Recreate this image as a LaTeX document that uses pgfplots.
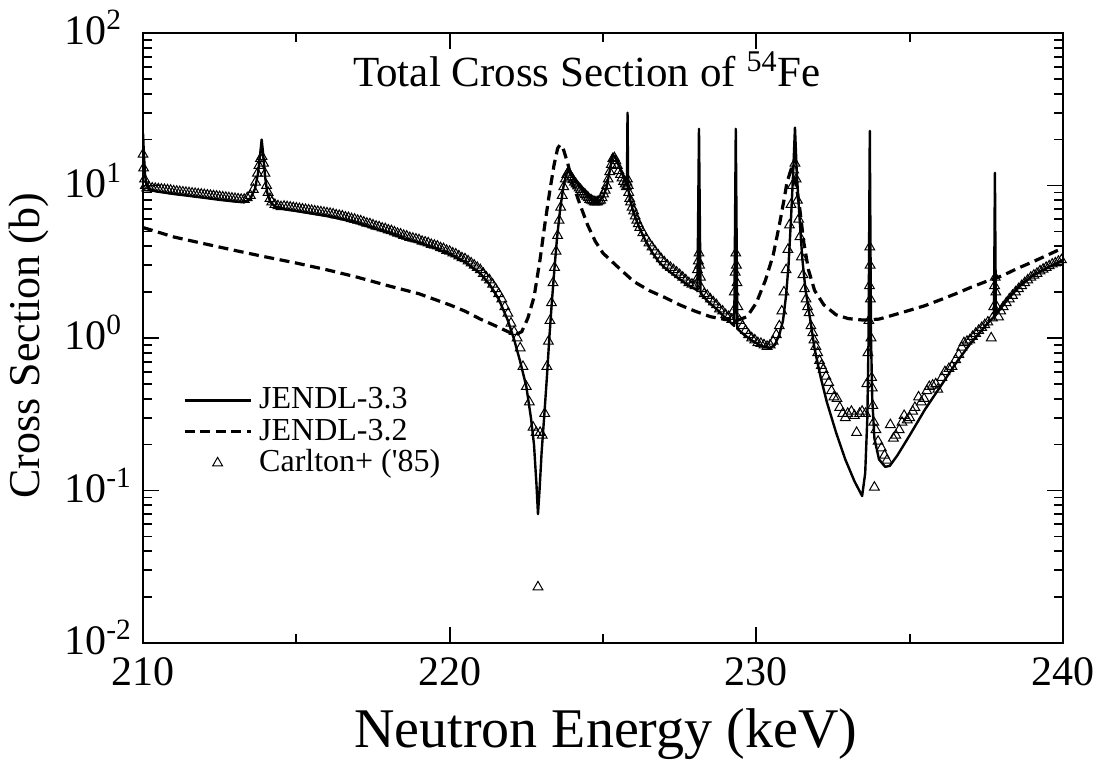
\documentclass[border=0pt]{standalone}
\usepackage{fontspec}
\setmainfont{Liberation Serif}
\usepackage{pgfplots}
\pgfplotsset{compat=1.18}
\pgfplotsset{
  lineleg/.style={legend image code/.code={\draw[##1] (0pt,0pt) -- (33pt,0pt);}},
  markleg/.style={legend image code/.code={\draw[mark repeat=2,mark phase=2,##1] plot coordinates {(0pt,0pt) (16.5pt,0pt) (33pt,0pt)};}},
}
\begin{document}
\begin{tikzpicture}
\begin{axis}[
  at={(0pt,0pt)}, anchor=south west,
  scale only axis, width=460pt, height=305pt,
  xmin=210, xmax=240,
  ymode=log, ymin=0.01, ymax=100,
  xtick={210,220,230,240}, xticklabels={210,220,230,240},
  minor xtick={215,225,235},
  ytick={0.01,0.1,1,10,100},
  yticklabels={10\textsuperscript{-2},10\textsuperscript{-1},10\textsuperscript{0},10\textsuperscript{1},10\textsuperscript{2}},
  minor ytick={0.02,0.03,0.04,0.05,0.06,0.07,0.08,0.09,0.2,0.3,0.4,0.5,0.6,0.7,0.8,0.9,2,3,4,5,6,7,8,9,20,30,40,50,60,70,80,90},
  tick align=inside,
  major tick length=8pt, minor tick length=4.5pt,
  every tick/.style={black, line width=0.9pt},
  axis line style={line width=1.2pt},
  ticklabel style={font=\fontsize{21}{21}\selectfont},
  xticklabel style={anchor=north, yshift=-4pt},
  yticklabel style={anchor=base west, inner xsep=0pt, xshift=-39.5pt, yshift=-6pt},
  title={Total Cross Section of \textsuperscript{54}Fe},
  title style={at={(axis description cs:0.4826,0.8918)}, anchor=base, font=\fontsize{21.5}{21.5}\selectfont},
  xlabel={Neutron Energy (keV)},
  xlabel style={at={(axis description cs:0.503,-0.1705)}, anchor=base, font=\fontsize{28}{28}\selectfont},
  ylabel={Cross Section (b)},
  ylabel style={at={(axis description cs:-0.112,0.487)}, anchor=base, font=\fontsize{22}{22}\selectfont},
  legend cell align=left,
  legend style={draw=none, fill=none, at={(axis description cs:0.0435,0.423)}, anchor=north west,
    inner sep=0pt, outer sep=0pt, column sep=3.5pt, row sep=0pt,
    font=\fontsize{16}{16}\selectfont,
    nodes={inner sep=0pt, text height=12pt, text depth=3.6pt}},
  lineleg,
]
\addplot[black, line width=1.2pt, line join=round, no marks] table[x=x,y=y] {
x y
210.00 22
210.03 16
210.07 11.5
210.12 10.0
210.2 9.4
210.5 9.1
211.0 8.8
211.5 8.55
212.0 8.3
212.5 8.05
213.0 7.85
213.3 7.75
213.5 8.2
213.65 9.5
213.75 12
213.82 16
213.87 20
213.92 16
213.98 11.5
214.05 9.0
214.15 7.8
214.3 7.3
214.6 7.0
215.0 6.8
215.5 6.55
216.0 6.3
216.5 6.0
217.0 5.65
217.5 5.25
218.0 4.9
218.5 4.5
219.0 4.2
219.5 3.9
220.0 3.55
220.5 3.15
221.0 2.65
221.3 2.25
221.6 1.8
221.9 1.3
222.1 0.98
222.3 0.7
222.5 0.48
222.65 0.3
222.75 0.2
222.83 0.11
222.88 0.07
222.93 0.1
223.0 0.18
223.08 0.3
223.17 0.55
223.25 1.0
223.33 1.7
223.42 2.9
223.5 4.5
223.6 6.9
223.7 9.6
223.8 11.8
223.87 12.6
223.95 12.0
224.1 10.7
224.3 9.5
224.5 8.5
224.7 7.9
224.85 7.8
225.0 8.4
225.12 9.8
225.22 12.5
225.32 16
225.42 15
225.55 13
225.7 11
225.78 10
225.80 30
225.82 9.5
225.9 7.8
226.0 6.6
226.2 5.2
226.4 4.3
226.6 3.65
226.8 3.2
227.0 2.9
227.3 2.6
227.6 2.35
227.9 2.15
228.08 2.05
228.13 23.5
228.18 1.98
228.4 1.75
228.7 1.55
229.0 1.35
229.28 1.2
229.33 23.5
229.38 1.15
229.6 1.05
229.9 0.95
230.2 0.88
230.45 0.86
230.6 0.9
230.75 1.05
230.87 1.3
230.97 1.9
231.05 3.0
231.13 6
231.2 12
231.26 24
231.32 12
231.4 6.5
231.5 3.3
231.6 2.1
231.75 1.35
231.9 0.85
232.1 0.55
232.3 0.38
232.6 0.24
232.9 0.16
233.2 0.115
233.45 0.092
233.55 0.13
233.62 0.3
233.66 1
233.7 22.8
233.74 1
233.78 0.4
233.85 0.22
234.0 0.16
234.2 0.143
234.35 0.145
234.6 0.17
235.0 0.23
235.5 0.34
236.0 0.48
236.5 0.68
237.0 0.93
237.5 1.22
237.75 1.38
237.78 12.1
237.81 1.42
238.2 1.8
238.6 2.2
239.0 2.55
239.5 2.9
240.0 3.25
};
\addlegendentry{JENDL-3.3}
\addplot[black, line width=1.6pt, dash pattern=on 5pt off 2.8pt, no marks] table[x=x,y=y] {
x y
210 5.3
211 4.6
212 4.15
213 3.75
214 3.4
215 3.1
216 2.8
217 2.5
218 2.2
219 1.95
220 1.65
220.5 1.5
221 1.33
221.5 1.2
221.9 1.1
222.15 1.05
222.35 1.1
222.55 1.35
222.75 1.85
222.95 3.3
223.1 5.5
223.25 8.8
223.4 13.5
223.52 17.5
223.6 18.5
223.7 17.5
223.85 14
224.0 10.5
224.25 7.5
224.5 5.5
224.75 4.3
225.0 3.6
225.5 2.9
226.0 2.35
226.5 2.05
227.0 1.85
227.5 1.65
228.0 1.5
228.5 1.38
229.0 1.32
229.4 1.31
229.7 1.38
230.0 1.7
230.3 2.4
230.55 3.5
230.75 5.5
230.9 8
231.0 10.5
231.12 12.5
231.25 11.5
231.4 7.5
231.55 4.2
231.7 2.8
231.9 2.05
232.2 1.65
232.6 1.42
233.0 1.34
233.5 1.31
234.0 1.33
234.5 1.42
235.0 1.52
235.5 1.63
236.0 1.78
236.5 1.95
237.0 2.15
237.5 2.35
238.0 2.55
238.5 2.85
239.0 3.15
239.5 3.5
240.0 3.9
};
\addlegendentry{JENDL-3.2}
\addplot[only marks, mark=triangle, mark size=2.8pt, mark options={line width=0.5pt, black, solid}, markleg] table[x=x,y=y] {
x y
210.0 16
210.02 13
210.05 11
210.08 10
210.12 9.6
210.2 9.7
210.3 9.6
210.4 9.55
210.5 9.5
210.6 9.45
210.7 9.4
210.8 9.35
210.9 9.3
211.0 9.2
211.1 9.15
211.2 9.1
211.3 9.05
211.4 9.0
211.5 8.95
211.6 8.9
211.7 8.85
211.8 8.8
211.9 8.75
212.0 8.7
212.1 8.65
212.2 8.6
212.3 8.55
212.4 8.5
212.5 8.45
212.6 8.4
212.7 8.35
212.8 8.3
212.9 8.25
213.0 8.2
213.1 8.15
213.2 8.1
213.3 8.1
213.4 8.3
213.5 8.6
213.6 9.4
213.67 10.5
213.73 12
213.78 13.5
213.83 15
213.88 15.5
213.93 14
213.98 12
214.03 10
214.08 9
214.14 8.2
214.2 7.8
214.3 7.5
214.4 7.35
214.5 7.25
214.6 7.3
214.7 7.25
214.8 7.2
214.9 7.15
215.0 7.1
215.1 7.05
215.2 7.0
215.3 6.95
215.4 6.9
215.5 6.85
215.6 6.8
215.7 6.75
215.8 6.7
215.9 6.65
216.0 6.6
216.1 6.55
216.2 6.5
216.3 6.4
216.4 6.35
216.5 6.3
216.6 6.2
216.7 6.15
216.8 6.05
216.9 6.0
217.0 5.9
217.1 5.85
217.2 5.75
217.3 5.65
217.4 5.6
217.5 5.5
217.6 5.4
217.7 5.35
217.8 5.25
217.9 5.2
218.0 5.1
218.1 5.05
218.2 4.95
218.3 4.85
218.4 4.8
218.5 4.7
218.6 4.65
218.7 4.55
218.8 4.5
218.9 4.45
219.0 4.4
219.1 4.3
219.2 4.25
219.3 4.2
219.4 4.1
219.5 4.05
219.6 4.0
219.7 3.9
219.8 3.85
219.9 3.75
220.0 3.7
220.1 3.6
220.2 3.55
220.3 3.45
220.4 3.35
220.5 3.3
220.6 3.2
220.7 3.1
220.8 3.0
220.9 2.9
221.0 2.8
221.1 2.65
221.2 2.5
221.3 2.4
221.4 2.25
221.5 2.1
221.6 1.95
221.7 1.8
221.8 1.6
221.9 1.45
222.0 1.25
222.1 1.1
222.2 1.0
222.3 0.86
222.39 0.65
222.5 0.48
222.6 0.38
222.72 0.26
222.82 0.24
222.88 0.0233
222.95 0.24
223.02 0.23
223.1 0.32
223.17 0.65
223.22 0.95
223.27 1.3
223.32 1.7
223.37 2.3
223.42 2.9
223.47 3.7
223.52 4.7
223.57 5.9
223.62 7.2
223.67 8.6
223.72 9.8
223.77 11
223.82 11.8
223.87 12.2
223.92 11.8
223.97 11.3
224.02 10.9
224.07 10.5
224.12 10.2
224.17 9.9
224.22 9.6
224.27 9.4
224.32 9.1
224.37 8.9
224.42 8.7
224.47 8.5
224.52 8.3
224.57 8.1
224.62 8.0
224.67 7.9
224.72 7.8
224.77 7.8
224.82 7.8
224.87 7.9
224.92 8.0
224.97 8.3
225.02 8.8
225.07 9.3
225.12 10
225.17 11
225.22 12.3
225.27 13.7
225.32 15
225.37 15.2
225.42 14.5
225.47 13.5
225.52 12.5
225.57 11.8
225.62 11.2
225.67 10.6
225.72 10.2
225.76 9.8
225.78 10.5
225.8 11
225.82 10
225.84 9.0
225.87 8.2
225.9 7.8
225.95 7.2
226.0 6.8
226.05 6.3
226.1 5.9
226.15 5.6
226.2 5.3
226.3 4.9
226.4 4.5
226.5 4.2
226.6 3.95
226.7 3.7
226.8 3.5
226.9 3.3
227.0 3.15
227.1 3.0
227.2 2.9
227.3 2.8
227.4 2.7
227.5 2.6
227.6 2.5
227.7 2.4
227.8 2.3
227.9 2.25
228.0 2.2
228.05 2.4
228.08 2.8
228.11 3.2
228.13 3.6
228.15 3.0
228.18 2.5
228.22 2.1
228.3 1.95
228.4 1.9
228.5 1.8
228.6 1.72
228.7 1.65
228.8 1.55
228.9 1.5
229.0 1.42
229.1 1.38
229.2 1.32
229.25 1.5
229.28 2.0
229.31 2.7
229.33 3.6
229.35 3.0
229.37 2.3
229.4 1.6
229.45 1.3
229.55 1.2
229.65 1.12
229.75 1.05
229.85 1.0
229.95 0.97
230.05 0.93
230.15 0.92
230.25 0.9
230.35 0.88
230.45 0.9
230.55 0.95
230.65 1.05
230.75 1.2
230.83 1.5
230.9 2.0
230.97 2.8
231.03 3.8
231.08 5.5
231.13 7.5
231.18 10
231.22 12.6
231.26 14
231.3 11
231.34 8
231.38 6
231.42 4.6
231.47 3.4
231.52 2.6
231.57 2.1
231.62 1.8
231.67 1.6
231.72 1.46
231.78 1.2
231.84 1.08
231.88 0.97
231.94 0.88
232.0 0.8
232.06 0.71
232.12 0.66
232.18 0.62
232.27 0.56
232.36 0.51
232.45 0.45
232.53 0.41
232.63 0.40
232.72 0.35
232.82 0.32
232.9 0.30
232.98 0.32
233.1 0.33
233.2 0.31
233.27 0.24
233.37 0.32
233.45 0.33
233.56 0.32
233.6 0.5
233.64 0.8
233.67 1.3
233.69 2.2
233.7 3.95
233.71 3.0
233.72 1.8
233.74 1.0
233.76 0.55
233.78 0.47
233.8 0.36
233.83 0.28
233.85 0.105
233.9 0.25
233.97 0.21
234.08 0.19
234.18 0.17
234.26 0.158
234.37 0.27
234.47 0.22
234.55 0.23
234.66 0.25
234.75 0.28
234.82 0.31
234.92 0.29
235.0 0.30
235.1 0.33
235.17 0.35
235.29 0.41
235.38 0.38
235.47 0.40
235.56 0.45
235.64 0.48
235.75 0.49
235.85 0.50
235.92 0.46
236.05 0.55
236.15 0.60
236.28 0.63
236.38 0.65
236.5 0.72
236.6 0.78
236.7 0.87
236.77 0.93
236.87 0.95
236.96 0.97
237.05 1.02
237.15 1.07
237.25 1.12
237.35 1.17
237.45 1.22
237.55 1.27
237.66 1.0
237.7 1.35
237.74 1.6
237.77 2.2
237.79 2.5
237.81 2.0
237.84 1.6
237.9 1.37
237.97 1.5
238.05 1.6
238.15 1.7
238.25 1.8
238.35 1.9
238.45 2.0
238.55 2.1
238.65 2.2
238.75 2.3
238.85 2.4
238.95 2.5
239.05 2.58
239.15 2.65
239.25 2.75
239.35 2.82
239.45 2.9
239.55 2.97
239.65 3.05
239.75 3.1
239.85 3.18
239.95 3.25
};
\addlegendentry{Carlton+ (\textquotesingle 85)}
\end{axis}
\pgfresetboundingbox
\useasboundingbox (-71.5pt,-63.5pt) rectangle (480.5pt,321.5pt);
\end{tikzpicture}
\end{document}
